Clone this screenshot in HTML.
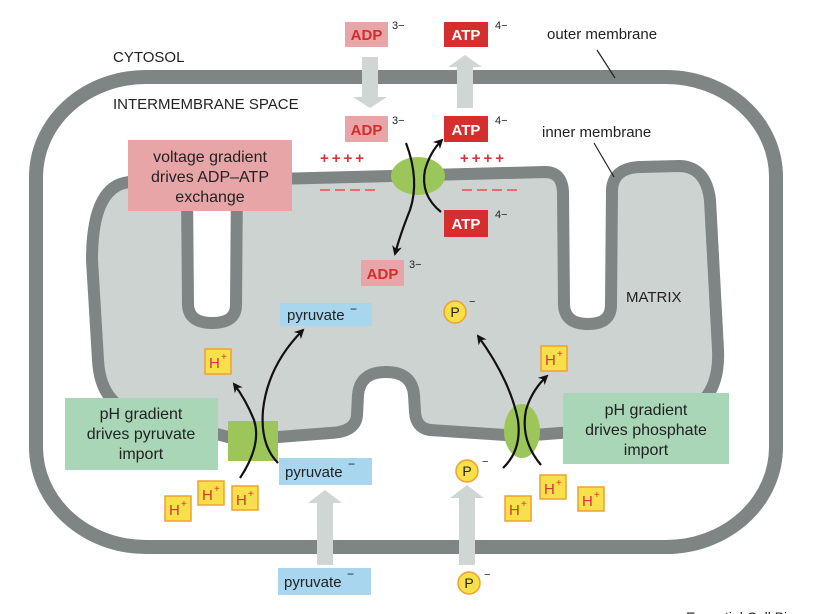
<!DOCTYPE html>
<html><head><meta charset="utf-8"><style>
html,body{margin:0;padding:0;background:#fff;}
svg{display:block;font-family:"Liberation Sans","DejaVu Sans",sans-serif;}
</style></head><body>
<svg width="828" height="614" viewBox="0 0 828 614" xmlns="http://www.w3.org/2000/svg">
<defs>
<marker id="ah" markerWidth="10" markerHeight="10" refX="8" refY="5" orient="auto" markerUnits="userSpaceOnUse"><path d="M0,0 L10,5 L0,10 L3,5 Z" fill="#111"/></marker>
</defs>
<rect x="36" y="77" width="740" height="470" rx="110" ry="100" fill="none" stroke="#7f8584" stroke-width="14"/>
<path d="M187 192 L188 305 Q189 323 212 323 Q236 323 236 305 L237 180 L545 172 Q562 172 563 192 L564 305 Q565 324 588 324 Q611 324 611 305 L612 190 Q613 168 640 167 L680 166 Q706 167 710 200 L718 350 Q720 395 690 410 Q660 425 600 430 L520 436 L430 430 Q416 428 415 412 L414 395 Q412 372 386 372 Q360 372 358 395 L357 415 Q356 432 330 433 L240 440 L130 412 Q100 400 98 360 L92 260 Q92 185 130 182 Z" fill="#cdd3d0" stroke="#7f8584" stroke-width="12" stroke-linejoin="round"/>
<ellipse cx="418" cy="176" rx="27" ry="19" fill="#9cc65a"/>
<rect x="228" y="421" width="50" height="40" fill="#9cc65a"/>
<ellipse cx="522" cy="431" rx="18" ry="27" fill="#9cc65a"/>
<path d="M362 57 L378 57 L378 97 L387 97 L370 108 L353 97 L362 97 Z" fill="#d0d6d3"/>
<path d="M457 108 L473 108 L473 67 L482 67 L465 55 L448 67 L457 67 Z" fill="#d0d6d3"/>
<path d="M317 565 L333 565 L333 503 L342 503 L325 490 L308 503 L317 503 Z" fill="#d0d6d3"/>
<path d="M459 565 L475 565 L475 498 L484 498 L467 485 L450 498 L459 498 Z" fill="#d0d6d3"/>
<g font-size="15" fill="#222">
<text x="113" y="62">CYTOSOL</text>
<text x="113" y="109">INTERMEMBRANE SPACE</text>
<text x="547" y="39">outer membrane</text>
<text x="542" y="137">inner membrane</text>
<text x="626" y="302">MATRIX</text>
</g>
<line x1="597" y1="50" x2="615" y2="78" stroke="#222" stroke-width="1.2"/>
<line x1="594" y1="143" x2="614" y2="177" stroke="#222" stroke-width="1.2"/>
<g fill="#d8343a" font-size="15" font-weight="bold">
<text x="320" y="163" letter-spacing="3">++++</text>
<text x="460" y="163" letter-spacing="3">++++</text>
</g>
<g stroke="#e07070" stroke-width="2">
<line x1="320" y1="190" x2="330" y2="190"/><line x1="335" y1="190" x2="345" y2="190"/><line x1="350" y1="190" x2="360" y2="190"/><line x1="365" y1="190" x2="375" y2="190"/>
<line x1="462" y1="190" x2="472" y2="190"/><line x1="477" y1="190" x2="487" y2="190"/><line x1="492" y1="190" x2="502" y2="190"/><line x1="507" y1="190" x2="517" y2="190"/>
</g>
<g font-size="15" font-weight="bold">
<rect x="345" y="22" width="43" height="25" fill="#e8a5a7"/><text x="366.5" y="40" text-anchor="middle" fill="#d42b2b">ADP</text>
<rect x="444" y="22" width="44" height="25" fill="#d42e2e"/><text x="466" y="40" text-anchor="middle" fill="#fff">ATP</text>
<rect x="345" y="116" width="43" height="26" fill="#e8a5a7"/><text x="366.5" y="135" text-anchor="middle" fill="#d42b2b">ADP</text>
<rect x="444" y="116" width="44" height="26" fill="#d42e2e"/><text x="466" y="135" text-anchor="middle" fill="#fff">ATP</text>
<rect x="444" y="210" width="44" height="27" fill="#d42e2e"/><text x="466" y="229" text-anchor="middle" fill="#fff">ATP</text>
<rect x="361" y="260" width="43" height="26" fill="#e8a5a7"/><text x="382.5" y="279" text-anchor="middle" fill="#d42b2b">ADP</text>
</g>
<g font-size="11" fill="#222">
<text x="392" y="29">3−</text><text x="495" y="29">4−</text>
<text x="392" y="124">3−</text><text x="495" y="124">4−</text>
<text x="495" y="218">4−</text><text x="409" y="268">3−</text>
</g>
<path d="M406 143 Q420 180 410 210 Q400 235 395 254" fill="none" stroke="#111" stroke-width="2.2" marker-end="url(#ah)"/>
<path d="M441 212 Q420 195 425 170 Q430 152 442 140" fill="none" stroke="#111" stroke-width="2.2" marker-end="url(#ah)"/>
<rect x="128" y="140" width="164" height="71" fill="#e8a5a7"/>
<g font-size="16" fill="#222" text-anchor="middle">
<text x="210" y="162">voltage gradient</text>
<text x="210" y="182">drives ADP–ATP</text>
<text x="210" y="202">exchange</text>
</g>
<rect x="65" y="398" width="153" height="72" fill="#a9d6b7"/>
<g font-size="16" fill="#222" text-anchor="middle">
<text x="141" y="419">pH gradient</text>
<text x="141" y="439">drives pyruvate</text>
<text x="141" y="459">import</text>
</g>
<rect x="563" y="393" width="166" height="71" fill="#a9d6b7"/>
<g font-size="16" fill="#222" text-anchor="middle">
<text x="646" y="415">pH gradient</text>
<text x="646" y="435">drives phosphate</text>
<text x="646" y="455">import</text>
</g>
<g font-size="15" fill="#222">
<rect x="280" y="303" width="92" height="23" fill="#a9d6ef"/><text x="287" y="320">pyruvate</text><text x="350" y="313" font-size="12">−</text>
<rect x="279" y="458" width="93" height="27" fill="#a9d6ef"/><text x="285" y="477">pyruvate</text><text x="348" y="468" font-size="12">−</text>
<rect x="278" y="568" width="93" height="27" fill="#a9d6ef"/><text x="284" y="587">pyruvate</text><text x="347" y="578" font-size="12">−</text>
</g>
<g font-size="14" fill="#222">
<circle cx="455" cy="312" r="11" fill="#f8e04a" stroke="#f0a030" stroke-width="1.5"/><text x="455" y="317" text-anchor="middle">P</text><text x="469" y="305" font-size="11">−</text>
<circle cx="467" cy="471" r="11" fill="#f8e04a" stroke="#f0a030" stroke-width="1.5"/><text x="467" y="476" text-anchor="middle">P</text><text x="482" y="465" font-size="11">−</text>
<circle cx="469" cy="583" r="11" fill="#f8e04a" stroke="#f0a030" stroke-width="1.5"/><text x="469" y="588" text-anchor="middle">P</text><text x="484" y="578" font-size="11">−</text>
</g>
<g font-size="15" fill="#d8343a">
<g transform="translate(205,349)"><rect width="26" height="25" fill="#f8e04a" stroke="#f0a030" stroke-width="1.5"/><text x="4" y="19">H</text><text x="16" y="11" font-size="10">+</text></g>
<g transform="translate(541,346)"><rect width="26" height="25" fill="#f8e04a" stroke="#f0a030" stroke-width="1.5"/><text x="4" y="19">H</text><text x="16" y="11" font-size="10">+</text></g>
<g transform="translate(198,481)"><rect width="26" height="24" fill="#f8e04a" stroke="#f0a030" stroke-width="1.5"/><text x="4" y="19">H</text><text x="16" y="11" font-size="10">+</text></g>
<g transform="translate(232,486)"><rect width="26" height="24" fill="#f8e04a" stroke="#f0a030" stroke-width="1.5"/><text x="4" y="19">H</text><text x="16" y="11" font-size="10">+</text></g>
<g transform="translate(165,496)"><rect width="26" height="25" fill="#f8e04a" stroke="#f0a030" stroke-width="1.5"/><text x="4" y="19">H</text><text x="16" y="11" font-size="10">+</text></g>
<g transform="translate(540,475)"><rect width="26" height="24" fill="#f8e04a" stroke="#f0a030" stroke-width="1.5"/><text x="4" y="19">H</text><text x="16" y="11" font-size="10">+</text></g>
<g transform="translate(505,496)"><rect width="26" height="25" fill="#f8e04a" stroke="#f0a030" stroke-width="1.5"/><text x="4" y="19">H</text><text x="16" y="11" font-size="10">+</text></g>
<g transform="translate(578,487)"><rect width="26" height="24" fill="#f8e04a" stroke="#f0a030" stroke-width="1.5"/><text x="4" y="19">H</text><text x="16" y="11" font-size="10">+</text></g>
</g>
<path d="M240 478 Q262 445 254 420 Q246 400 234 384" fill="none" stroke="#111" stroke-width="2.2" marker-end="url(#ah)"/>
<path d="M278 463 Q260 445 263 410 Q268 365 303 330" fill="none" stroke="#111" stroke-width="2.2" marker-end="url(#ah)"/>
<path d="M503 468 Q522 450 518 420 Q510 380 478 336" fill="none" stroke="#111" stroke-width="2.2" marker-end="url(#ah)"/>
<path d="M541 465 Q520 440 526 410 Q532 390 547 376" fill="none" stroke="#111" stroke-width="2.2" marker-end="url(#ah)"/>
<text x="686" y="622" font-size="14" fill="#222">Essential Cell Bi</text>
</svg>
</body></html>
